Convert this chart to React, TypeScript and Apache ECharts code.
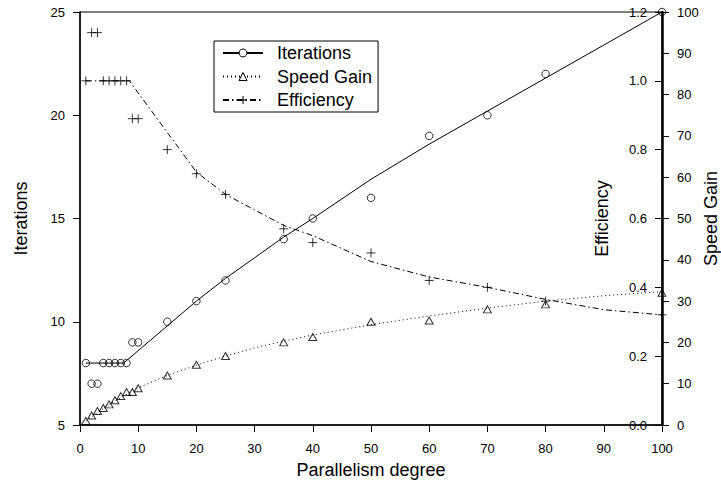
import React, { useEffect, useRef } from 'react';
import * as echarts from 'echarts';

// Measured points
const degrees = [1, 2, 3, 4, 5, 6, 7, 8, 9, 10, 15, 20, 25, 35, 40, 50, 60, 70, 80, 100];
const iterations = [8, 7, 7, 8, 8, 8, 8, 8, 9, 9, 10, 11, 12, 14, 15, 16, 19, 20, 22, 25];
const speedGain = [1.0, 2.3, 3.4, 4.1, 5.0, 6.0, 7.0, 8.0, 8.0, 8.9, 12.0, 14.6, 16.7, 20.0, 21.3, 25.0, 25.3, 28.0, 29.2, 32.0];
const efficiency = [1.0, 1.14, 1.14, 1.0, 1.0, 1.0, 1.0, 1.0, 0.89, 0.89, 0.8, 0.73, 0.67, 0.57, 0.53, 0.5, 0.42, 0.4, 0.36, 0.32];

// Fitted curves
const iterFitX = [1, 7.5, 10, 15, 20, 25, 30, 35, 40, 45, 50, 60, 70, 80, 90, 100];
const iterFit = [8, 8, 8.6, 9.8, 11.0, 12.1, 13.1, 14.1, 15.0, 15.95, 16.9, 18.6, 20.2, 21.8, 23.4, 25];
const speedFitX = [1, 5, 10, 15, 20, 25, 30, 35, 40, 50, 60, 70, 80, 90, 100];
const speedFit = [1.0, 5.0, 9.0, 12.0, 14.5, 16.7, 18.7, 20.3, 21.8, 24.3, 26.4, 28.3, 30.0, 31.3, 32.3];
const effFitX = [1, 8.5, 10, 15, 20, 25, 30, 35, 40, 50, 60, 70, 80, 90, 100];
const effFit = [1.0, 1.0, 0.965, 0.85, 0.735, 0.67, 0.625, 0.58, 0.55, 0.475, 0.43, 0.4, 0.365, 0.335, 0.32];

const seriesNames = ['Iterations', 'Speed Gain', 'Efficiency'];

const FONT = 'Liberation Sans, Arial, sans-serif';
const PLUS = 'path://M0,5L10,5M5,0L5,10';

const zip = (xs: number[], ys: number[]) => xs.map((x, i) => [x, ys[i]]);

export default function App() {
  const ref = useRef<HTMLDivElement>(null);
  useEffect(() => {
    if (!ref.current) return;
    const chart = echarts.init(ref.current, null, { renderer: 'svg' });
    const tickLabel = { color: '#000', fontFamily: FONT, fontSize: 13 };
    const nameStyle = { color: '#000', fontFamily: FONT, fontSize: 18 };
    const hollow = { color: 'rgba(0,0,0,0)', borderColor: '#000', borderWidth: 1 };
    const legendItem = { color: '#fff', borderColor: '#000', borderWidth: 1 };
    chart.setOption({
      animation: false,
      grid: {
        left: 80, right: 59, top: 12, bottom: 56,
        outerBoundsMode: 'none',
        containLabel: false,
        show: true, borderColor: '#000', borderWidth: 1, backgroundColor: 'rgba(0,0,0,0)',
      },
      legend: {
        data: [
          { name: seriesNames[0], lineStyle: { width: 2 } },
          { name: seriesNames[1] },
          { name: seriesNames[2] },
        ],
        orient: 'vertical',
        left: 214,
        top: 41,
        padding: [2, 6, 2, 8],
        itemGap: 3.5,
        itemWidth: 40,
        itemHeight: 10,
        borderColor: '#000',
        borderWidth: 1,
        borderRadius: 0,
        backgroundColor: '#fff',
        itemStyle: { borderWidth: 1 },
        textStyle: { color: '#000', fontFamily: FONT, fontSize: 18, lineHeight: 20, padding: [0, 0, 0, 9] },
      },
      xAxis: {
        type: 'value',
        min: 0, max: 100, interval: 10,
        name: 'Parallelism degree',
        nameLocation: 'middle',
        nameGap: 36,
        nameTextStyle: nameStyle,
        axisLine: { show: true, lineStyle: { color: '#000', width: 1.5 } },
        axisTick: { show: true, length: 7, lineStyle: { color: '#000', width: 1 } },
        axisLabel: { ...tickLabel, margin: 17 },
        splitLine: { show: false },
      },
      yAxis: [
        {
          type: 'value',
          position: 'left',
          min: 5, max: 25, interval: 5,
          name: 'Iterations',
          nameLocation: 'middle',
          nameGap: 50,
          nameTextStyle: nameStyle,
          axisLine: { show: true, lineStyle: { color: '#000', width: 1.5 } },
          axisTick: { show: true, length: 7, lineStyle: { color: '#000', width: 1 } },
          axisLabel: { ...tickLabel, margin: 15 },
          splitLine: { show: false },
        },
        {
          type: 'value',
          position: 'right',
          offset: 0,
          min: 0, max: 1.2, interval: 0.2,
          name: 'Efficiency',
          nameLocation: 'middle',
          nameGap: -69,
          nameTextStyle: nameStyle,
          axisLine: { show: false },
          axisTick: { show: true, inside: true, length: 7, lineStyle: { color: '#000', width: 1 } },
          axisLabel: { ...tickLabel, inside: true, margin: 15, formatter: (v: number) => v.toFixed(1) },
          splitLine: { show: false },
        },
        {
          type: 'value',
          position: 'right',
          offset: 0,
          min: 0, max: 100, interval: 10,
          name: 'Speed Gain',
          nameLocation: 'middle',
          nameGap: 40,
          nameMoveOverlap: false,
          nameTextStyle: nameStyle,
          axisLine: { show: true, lineStyle: { color: '#000', width: 2.5 } },
          axisTick: { show: true, length: 7, lineStyle: { color: '#000', width: 1 } },
          axisLabel: { ...tickLabel, margin: 15 },
          splitLine: { show: false },
        },
      ],
      series: [
        {
          name: seriesNames[0],
          type: 'line',
          yAxisIndex: 0,
          data: zip(iterFitX, iterFit),
          symbol: 'circle',
          showSymbol: false,
          itemStyle: legendItem,
          lineStyle: { color: '#000', width: 1, type: 'solid' },
          z: 2,
        },
        {
          name: seriesNames[1],
          type: 'line',
          yAxisIndex: 2,
          data: zip(speedFitX, speedFit),
          symbol: 'triangle',
          showSymbol: false,
          itemStyle: legendItem,
          lineStyle: { color: '#000', width: 1, type: [1, 3] },
          z: 2,
        },
        {
          name: seriesNames[2],
          type: 'line',
          yAxisIndex: 1,
          data: zip(effFitX, effFit),
          symbol: PLUS,
          showSymbol: false,
          itemStyle: legendItem,
          lineStyle: { color: '#000', width: 1, type: [6, 3, 1.5, 3] },
          z: 2,
        },
        {
          name: 'Iterations points',
          type: 'scatter',
          yAxisIndex: 0,
          data: zip(degrees, iterations),
          symbol: 'circle',
          symbolSize: 7.5,
          itemStyle: hollow,
          clip: false,
          z: 3,
        },
        {
          name: 'Speed Gain points',
          type: 'scatter',
          yAxisIndex: 2,
          data: zip(degrees, speedGain),
          symbol: 'triangle',
          symbolSize: [8, 7],
          itemStyle: hollow,
          clip: false,
          z: 3,
        },
        {
          name: 'Efficiency points',
          type: 'scatter',
          yAxisIndex: 1,
          data: zip(degrees, efficiency),
          symbol: PLUS,
          symbolSize: 9,
          itemStyle: hollow,
          clip: false,
          z: 3,
        },
      ],
    });
    return () => chart.dispose();
  }, []);
  return (
    <div
      ref={ref}
      style={{ position: 'absolute', left: 0, top: 0, width: 721, height: 481, background: '#fff' }}
    />
  );
}
